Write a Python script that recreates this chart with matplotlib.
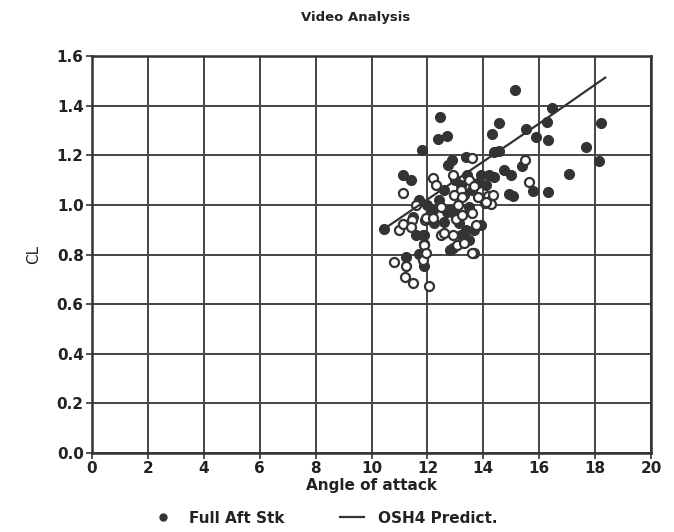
import matplotlib
matplotlib.use("Agg")
import matplotlib.pyplot as plt
from matplotlib.lines import Line2D

# --- données ---
full_x = [15.14, 14.57, 14.31, 16.45, 16.27, 15.52, 15.9, 16.33, 18.2, 17.67,
          18.14, 17.05, 14.39, 14.57, 15.38, 14.75, 14.99, 15.79, 16.3, 14.93,
          15.07, 12.45, 12.36, 12.7, 11.8, 13.38, 12.88, 12.75, 11.12, 11.42,
          14.39, 11.71, 10.46, 11.6, 11.89, 11.24, 11.71, 11.86, 12.79, 12.9,
          12.25, 13.38, 13.68, 11.83, 13.14, 13.0, 13.2, 13.4, 13.6, 13.8,
          13.3, 13.9, 14.1, 12.6, 12.4, 12.2, 12.0, 12.8, 13.5, 13.0,
          12.6, 13.9, 13.5, 13.2, 12.7, 14.2, 11.5, 12.1]
full_y = [1.464, 1.331, 1.287, 1.39, 1.333, 1.304, 1.273, 1.262, 1.329, 1.235,
          1.176, 1.125, 1.215, 1.219, 1.155, 1.139, 1.119, 1.056, 1.052, 1.045,
          1.034, 1.356, 1.266, 1.277, 1.222, 1.195, 1.179, 1.159, 1.119, 1.101,
          1.112, 1.018, 0.904, 0.877, 0.877, 0.79, 0.804, 0.752, 0.817, 0.825,
          0.926, 0.897, 0.897, 0.877, 0.926, 1.10, 1.08, 1.12, 1.06, 1.09,
          1.04, 1.12, 1.08, 1.06, 1.02, 0.98, 1.00, 0.98, 0.99, 0.96,
          0.93, 0.92, 0.86, 0.88, 0.97, 1.12, 0.95, 0.96]

open_x = [15.64, 14.15, 13.6, 15.48, 12.19, 11.12, 14.36, 14.07, 11.0, 11.12,
          11.45, 11.42, 11.93, 11.89, 10.82, 11.24, 11.18, 11.48, 12.07, 11.83,
          13.68, 13.2, 12.96, 13.25, 13.5, 13.68, 14.27, 14.1, 11.95, 12.19,
          13.02, 13.25, 13.6, 12.49, 12.6, 12.9, 13.07, 13.32, 13.6, 11.89,
          11.95, 13.74, 12.3, 12.9, 13.1, 13.8, 12.5, 11.6]
open_y = [1.092, 1.034, 1.188, 1.179, 1.109, 1.048, 1.038, 1.007, 0.9, 0.924,
          0.94, 0.911, 0.94, 0.844, 0.77, 0.752, 0.709, 0.685, 0.672, 0.777,
          0.806, 1.058, 1.038, 1.03, 1.10, 1.078, 1.005, 1.01, 0.946, 0.946,
          0.944, 0.958, 0.966, 0.877, 0.885, 0.877, 0.837, 0.845, 0.805, 0.837,
          0.805, 0.918, 1.08, 1.12, 1.0, 1.03, 0.99, 1.0]

pred_x = [10.46, 12.0, 14.0, 16.0, 18.36]
pred_y = [0.904, 1.022, 1.175, 1.328, 1.513]

INK = "#333333"
TXT = "#222222"

plt.rcParams["font.family"] = ["DejaVu Sans"]

fig = plt.figure(figsize=(6.74, 5.32), dpi=100)
ax = fig.add_axes([0.1365, 0.1485, 0.8295, 0.7462])

ax.plot(pred_x, pred_y, color=INK, lw=1.6, zorder=6)
ax.plot(full_x, full_y, "o", ms=7, color=INK, mec=INK, zorder=4)
ax.plot(open_x, open_y, "o", ms=6.5, mfc="white", mec=INK, mew=1.6, zorder=5)

ax.set_xlim(0, 20)
ax.set_ylim(0, 1.6)
ax.set_xticks(range(0, 21, 2))
ax.set_yticks([i * 0.2 for i in range(9)])
ax.set_yticklabels([f"{i * 0.2:.1f}" for i in range(9)])
ax.grid(True, color="#444444", lw=1.4, ls="-")
ax.set_axisbelow(True)
for s in ax.spines.values():
    s.set_color(INK)
    s.set_linewidth(1.8)
ax.tick_params(colors=INK, labelcolor=TXT, length=4, width=1.2,
               labelsize=11, direction="out", pad=2)
for lab in ax.get_xticklabels() + ax.get_yticklabels():
    lab.set_fontweight("bold")

fig.text(0.527, 1 - 17 / 532, "Video Analysis", fontsize=9.5, fontweight="bold",
         color=TXT, ha="center", va="center")
ax.set_xlabel("Angle of attack", fontsize=11, fontweight="bold", color=TXT, labelpad=1)
ax.set_ylabel("CL", fontsize=11, color=TXT, labelpad=11)

handles = [Line2D([], [], marker="o", ls="none", ms=5, color=INK),
           Line2D([], [], color=INK, lw=1.6)]
leg = fig.legend(handles, ["Full Aft Stk", "OSH4 Predict."], loc="center",
                 bbox_to_anchor=(0.481, 0.026), ncol=2, frameon=False,
                 handlelength=1.6, handletextpad=0.9, columnspacing=3.6,
                 prop={"weight": "bold", "size": 11})
for t in leg.get_texts():
    t.set_color(TXT)

fig.savefig("out.png", dpi=100)
